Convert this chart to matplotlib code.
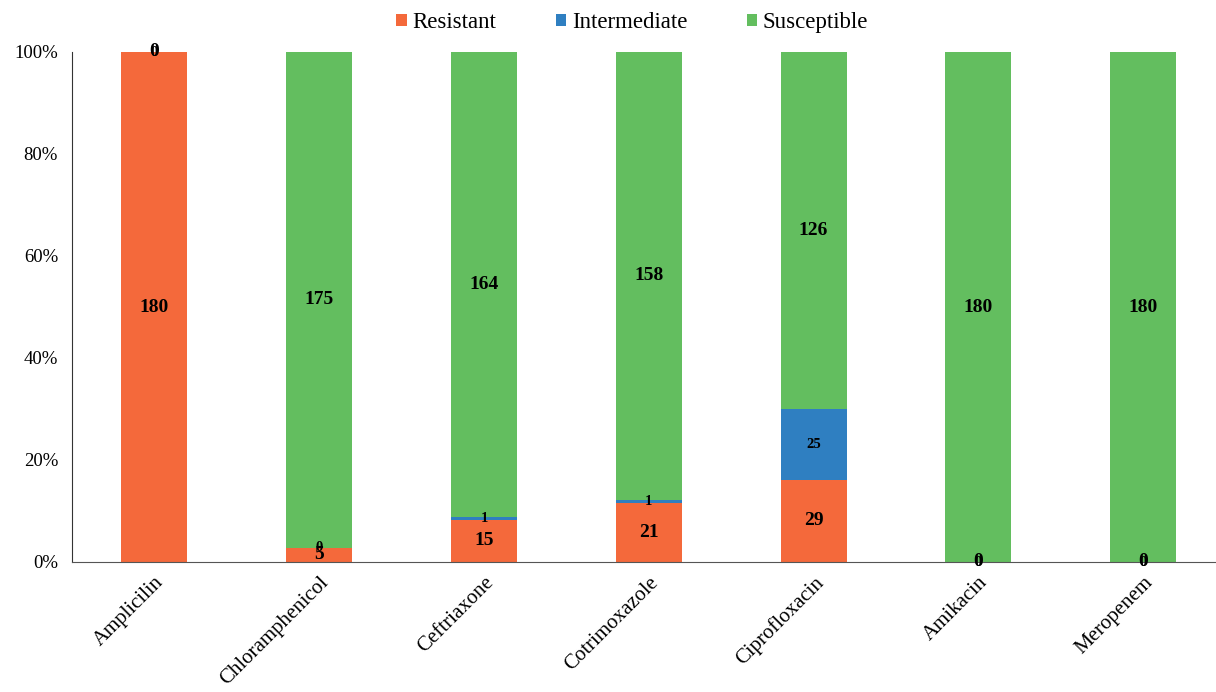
import numpy as np
import matplotlib.pyplot as plt
from matplotlib.ticker import PercentFormatter

# Data (isolate counts per antibiotic)
antibiotics = ["Amplicilin", "Chloramphenicol", "Ceftriaxone", "Cotrimoxazole",
               "Ciprofloxacin", "Amikacin", "Meropenem"]
resistant = [180, 5, 15, 21, 29, 0, 0]
intermediate = [0, 0, 1, 1, 25, 0, 0]
susceptible = [0, 175, 164, 158, 126, 180, 180]

series_names = ["Resistant", "Intermediate", "Susceptible"]
colors = ["#F4693B", "#2F7FC1", "#63BE5F"]

plt.rcParams['font.family'] = ['Liberation Serif', 'DejaVu Serif']

fig = plt.figure(figsize=(12.16, 6.92), dpi=100)
ax = fig.add_axes([72 / 1216, 130 / 692, 1 - 72 / 1216, 510 / 692])

x = np.arange(len(antibiotics))
counts = np.array([resistant, intermediate, susceptible], dtype=float)
totals = counts.sum(axis=0)
pcts = counts / totals * 100

bottom = np.zeros(len(antibiotics))
for i, name in enumerate(series_names):
    ax.bar(x, pcts[i], width=0.4, bottom=bottom, color=colors[i], label=name)
    for j in range(len(antibiotics)):
        yc = bottom[j] + pcts[i][j] / 2
        size = 10.5 if i == 1 else 14
        ax.text(x[j], yc, f"{int(counts[i][j])}", ha='center', va='center',
                fontsize=size, fontweight='bold', color='black')
    bottom += pcts[i]

ax.set_xlim(-0.5, (1216 - 72) / 164.8 - 0.5)
ax.set_ylim(0, 100)
ax.set_yticks([0, 20, 40, 60, 80, 100])
ax.yaxis.set_major_formatter(PercentFormatter(decimals=0))
ax.set_xticks(x)
ax.set_xticklabels(antibiotics, rotation=45, ha='right', rotation_mode='anchor')
ax.tick_params(axis='y', length=0, labelsize=13.5, pad=10)
ax.tick_params(axis='x', length=0, labelsize=15, pad=8)

for s in ['top', 'right']:
    ax.spines[s].set_visible(False)
ax.spines['left'].set_color('#333333')
ax.spines['bottom'].set_color('#555555')

fig.legend(loc='upper center', bbox_to_anchor=(0.52, 1.012), ncol=3, frameon=False,
           fontsize=16.5, handlelength=0.45, handleheight=0.45, handletextpad=0.25,
           columnspacing=2.6)

fig.savefig("out.png", dpi=100)
